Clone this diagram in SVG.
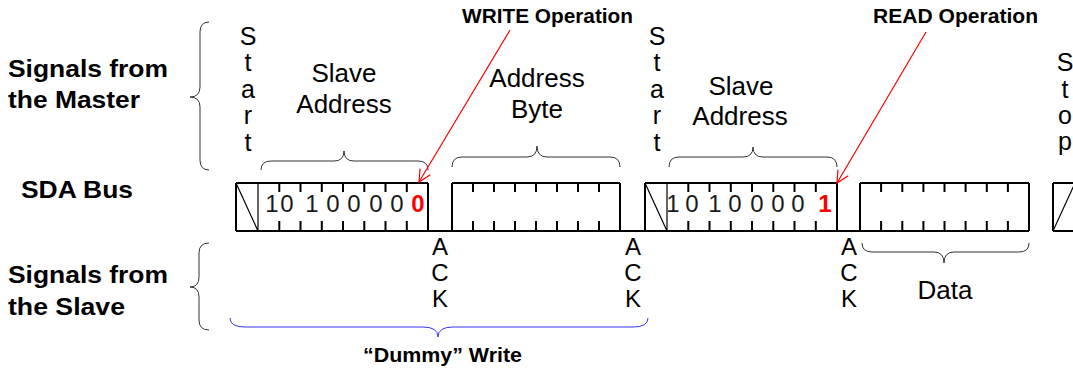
<svg xmlns="http://www.w3.org/2000/svg" width="1073" height="370" viewBox="0 0 1073 370">
<defs>
<style>
.reg{font-family:"Liberation Sans",Arial,sans-serif;fill:#000;}
.bold{font-family:"Liberation Sans",Arial,sans-serif;font-weight:bold;fill:#000;}
.lbl{font-size:26px;text-anchor:middle;}
.vert{font-size:25px;text-anchor:middle;}
.ack{font-size:24px;text-anchor:middle;}
.bit{font-size:24px;fill:#1a1a1a;}
.red{font-family:"Liberation Sans",Arial,sans-serif;font-weight:bold;font-size:24px;fill:#ff0000;text-anchor:middle;}
.wave{fill:none;stroke:#000;stroke-width:2;}
.thin{fill:none;stroke:#000;stroke-width:1.2;}
.brace{fill:none;stroke:#333;stroke-width:1;}
.bluebrace{fill:none;stroke:#3333ff;stroke-width:1;}
.arrow{fill:none;stroke:#ff0000;stroke-width:1.2;}
</style>
<marker id="openV" markerUnits="userSpaceOnUse" markerWidth="16" markerHeight="16" refX="13" refY="7" orient="auto" viewBox="0 0 16 14">
<path d="M1,1 L13,7 L1,13" fill="none" stroke="#ff0000" stroke-width="1.2"/>
</marker>
</defs>

<g id="master-label">
<text class="bold" x="8" y="77" font-size="23" textLength="160" lengthAdjust="spacingAndGlyphs">Signals from</text>
<text class="bold" x="8" y="108" font-size="23" textLength="132" lengthAdjust="spacingAndGlyphs">the Master</text>
</g>
<g id="sda-label">
<text class="bold" x="21" y="198" font-size="24" textLength="112" lengthAdjust="spacingAndGlyphs">SDA Bus</text>
</g>
<g id="slave-label">
<text class="bold" x="8" y="283" font-size="23" textLength="160" lengthAdjust="spacingAndGlyphs">Signals from</text>
<text class="bold" x="8" y="315" font-size="23" textLength="117" lengthAdjust="spacingAndGlyphs">the Slave</text>
</g>

<g id="master-brace">
<path class="brace" d="M209,22 Q200,22 200,32 L200,87 Q200,97 190,97 Q200,97 200,107 L200,160 Q200,170 209,170"/>
</g>
<g id="slave-brace">
<path class="brace" d="M209,243 Q199,243 199,253 L199,277 Q199,287 190,287 Q199,287 199,297 L199,320 Q199,330 209,330"/>
</g>

<g id="start1">
<text class="reg vert"><tspan x="248" y="44.5">S</tspan><tspan x="248" y="71">t</tspan><tspan x="248" y="97.5">a</tspan><tspan x="248" y="124">r</tspan><tspan x="248" y="150.5">t</tspan></text>
</g>
<g id="slave-address1">
<text class="reg lbl" x="344" y="81.5">Slave</text>
<text class="reg lbl" x="344" y="113">Address</text>
<path class="brace" d="M261,170 Q261,161 271,161 L334,161 Q344,161 344,151 Q344,161 354,161 L418,161 Q428,161 428,170"/>
</g>
<g id="address-byte">
<text class="reg lbl" x="537" y="87">Address</text>
<text class="reg lbl" x="537" y="118">Byte</text>
<path class="brace" d="M452,167 Q452,157 462,157 L527,157 Q537,157 537,146 Q537,157 547,157 L610,157 Q620,157 620,167"/>
</g>
<g id="start2">
<text class="reg vert"><tspan x="657" y="44.5">S</tspan><tspan x="657" y="71">t</tspan><tspan x="657" y="97.5">a</tspan><tspan x="657" y="124">r</tspan><tspan x="657" y="150.5">t</tspan></text>
</g>
<g id="slave-address2">
<text class="reg lbl" x="741" y="94.5">Slave</text>
<text class="reg lbl" x="740" y="125">Address</text>
<path class="brace" d="M669,167 Q669,157 679,157 L743,157 Q753,157 753,147 Q753,157 763,157 L827,157 Q837,157 837,167"/>
</g>
<g id="stop">
<text class="reg vert"><tspan x="1065" y="71">S</tspan><tspan x="1065" y="97.5">t</tspan><tspan x="1065" y="124">o</tspan><tspan x="1065" y="150">p</tspan></text>
</g>

<g id="write-op">
<text class="bold" x="462" y="23" font-size="20" textLength="171" lengthAdjust="spacingAndGlyphs">WRITE Operation</text>
</g>
<g id="read-op">
<text class="bold" x="873" y="23" font-size="20" textLength="165" lengthAdjust="spacingAndGlyphs">READ Operation</text>
</g>

<g id="sda-waveform">
<path class="wave" d="M236,231 L1029,231 M1053,231 L1073,231 M236,183 L428,183 M452,183 L620,183 M645,183 L837,183 M860,183 L1029,183 M1053,183 L1073,183 M236,183 L236,231 M428,183 L428,231 M452,183 L452,231 M620,183 L620,231 M645,183 L645,231 M837,183 L837,231 M860,183 L860,231 M1029,183 L1029,231 M1053,183 L1053,231"/>
<path class="thin" d="M258,183 L258,231 M667,183 L667,231 M236,183 L258,231 M645,183 L667,231 M1053,231 L1075,183"/>
<path class="wave" d="M279.3,183 V192 M300.5,183 V192 M321.8,183 V192 M343,183 V192 M364.3,183 V192 M385.5,183 V192 M406.8,183 V192 M279.3,221 V231 M300.5,221 V231 M321.8,221 V231 M343,221 V231 M364.3,221 V231 M385.5,221 V231 M406.8,221 V231"/>
<path class="wave" d="M473,183 V192 M494,183 V192 M515,183 V192 M536,183 V192 M557,183 V192 M578,183 V192 M599,183 V192 M473,221 V231 M494,221 V231 M515,221 V231 M536,221 V231 M557,221 V231 M578,221 V231 M599,221 V231"/>
<path class="wave" d="M688.3,183 V192 M709.5,183 V192 M730.8,183 V192 M752,183 V192 M773.3,183 V192 M794.5,183 V192 M815.8,183 V192 M688.3,221 V231 M709.5,221 V231 M730.8,221 V231 M752,221 V231 M773.3,221 V231 M794.5,221 V231 M815.8,221 V231"/>
<path class="wave" d="M881.1,183 V192 M902.3,183 V192 M923.4,183 V192 M944.5,183 V192 M965.6,183 V192 M986.8,183 V192 M1007.9,183 V192 M881.1,221 V231 M902.3,221 V231 M923.4,221 V231 M944.5,221 V231 M965.6,221 V231 M986.8,221 V231 M1007.9,221 V231"/>
<text class="reg bit" x="265.3 280.3 293.6 305.3 318.6 326.3 339.6 347.3 360.6 369.3 382.6 390.3" y="212">10 1 0 0 0 0</text>
<text class="red" x="418" y="212">0</text>
<text class="reg bit" x="666.3 679.6 685.3 698.6 708.3 721.6 728.3 741.6 750.3 763.6 771.3 784.6 791.3" y="212">1 0 1 0 0 0 0</text>
<text class="red" x="825" y="212">1</text>
</g>

<g id="ack1">
<text class="reg ack"><tspan x="440" y="255">A</tspan><tspan x="440" y="281">C</tspan><tspan x="440" y="307">K</tspan></text>
</g>
<g id="ack2">
<text class="reg ack"><tspan x="633" y="255">A</tspan><tspan x="633" y="281">C</tspan><tspan x="633" y="307">K</tspan></text>
</g>
<g id="ack3">
<text class="reg ack"><tspan x="849" y="255">A</tspan><tspan x="849" y="281">C</tspan><tspan x="849" y="307">K</tspan></text>
</g>

<g id="data">
<path class="brace" d="M862,243 Q862,252 872,252 L934,252 Q944,252 944,263 Q944,252 954,252 L1019,252 Q1029,252 1029,243"/>
<text class="reg lbl" x="945" y="299">Data</text>
</g>

<g id="dummy-write">
<path class="bluebrace" d="M230,318 Q230,327 245,327 L423,327 Q438,327 438,337 Q438,327 453,327 L633,327 Q648,327 648,318"/>
<text class="bold" x="363" y="362" font-size="20" textLength="159" lengthAdjust="spacingAndGlyphs">“Dummy” Write</text>
</g>

<g id="connectors">
<line class="arrow" x1="510" y1="30" x2="419" y2="182" marker-end="url(#openV)"/>
<line class="arrow" x1="926" y1="32" x2="837" y2="183" marker-end="url(#openV)"/>
</g>
</svg>
